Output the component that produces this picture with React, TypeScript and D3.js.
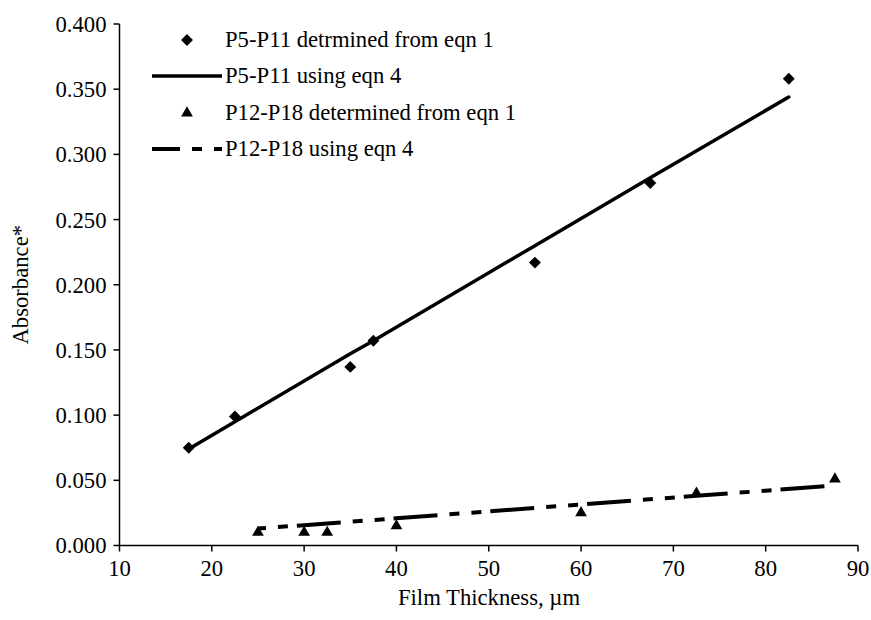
import React from "react";
import * as d3 from "d3";

const p5x = [17.5, 22.5, 35, 37.5, 55, 67.5, 82.5];
const p5y = [0.075, 0.099, 0.137, 0.157, 0.217, 0.278, 0.358];
const p5fit = [0.074, 0.095, 0.147, 0.157, 0.230, 0.282, 0.344];

const p12x = [25, 30, 32.5, 40, 60, 72.5, 87.5];
const p12y = [0.010, 0.010, 0.010, 0.015, 0.025, 0.040, 0.051];
const p12fit = [0.013, 0.0156, 0.0169, 0.0209, 0.0315, 0.0381, 0.046];

const xTicks = [10, 20, 30, 40, 50, 60, 70, 80, 90];
const yTicks = [0, 0.05, 0.1, 0.15, 0.2, 0.25, 0.3, 0.35, 0.4];

const legendLabels = [
  "P5-P11 detrmined from eqn 1",
  "P5-P11 using eqn 4",
  "P12-P18 determined from eqn 1",
  "P12-P18 using eqn 4",
];

const W = 871;
const H = 620;
const FONT = "'Liberation Serif', 'Times New Roman', serif";
const FS = 22.7;

export default function App() {
  const x = d3.scaleLinear().domain([10, 90]).range([119.5, 858]);
  const y = d3.scaleLinear().domain([0, 0.4]).range([545.5, 24]);

  const line = d3
    .line<[number, number]>()
    .x((d) => x(d[0]))
    .y((d) => y(d[1]));

  const p5Line = line(p5x.map((v, i) => [v, p5fit[i]] as [number, number]))!;
  const p12Line = line(p12x.map((v, i) => [v, p12fit[i]] as [number, number]))!;

  const diamond = d3.symbol().type(d3.symbolDiamond2).size(90)()!;
  const triangle = d3.symbol().type(d3.symbolTriangle).size(60)()!;

  const legendY = [40, 76, 113, 149];

  return (
    <svg
      width={W}
      height={H}
      style={{ position: "absolute", left: 0, top: 0, background: "#fff" }}
      fontFamily={FONT}
    >
      <rect x={0} y={0} width={W} height={H} fill="#fff" />
      {/* axes */}
      <line x1={x(10)} x2={x(90)} y1={y(0)} y2={y(0)} stroke="#000" strokeWidth={1.5} />
      <line x1={x(10)} x2={x(10)} y1={y(0)} y2={y(0.4)} stroke="#000" strokeWidth={1.5} />
      {xTicks.map((t) => (
        <g key={"xt" + t}>
          <line x1={x(t)} x2={x(t)} y1={y(0)} y2={y(0) + 6} stroke="#000" strokeWidth={1.5} />
          <text x={x(t)} y={y(0) + 30} textAnchor="middle" fontSize={FS}>
            {t}
          </text>
        </g>
      ))}
      {yTicks.map((t) => (
        <g key={"yt" + t}>
          <line x1={x(10) - 6} x2={x(10)} y1={y(t)} y2={y(t)} stroke="#000" strokeWidth={1.5} />
          <text x={x(10) - 13} y={y(t)} dy="0.35em" textAnchor="end" fontSize={FS}>
            {d3.format(".3f")(t)}
          </text>
        </g>
      ))}
      <text x={489} y={605} textAnchor="middle" fontSize={FS}>
        Film Thickness, µm
      </text>
      <text
        transform={`translate(28, ${y(0.2)}) rotate(-90)`}
        textAnchor="middle"
        fontSize={FS}
      >
        Absorbance*
      </text>

      {/* series */}
      <path d={p5Line} fill="none" stroke="#000" strokeWidth={3.5} strokeLinecap="round" />
      <path
        d={p12Line}
        fill="none"
        stroke="#000"
        strokeWidth={4}
        strokeDasharray="44 12 10 12 10 9"
        strokeDashoffset={58}
      />
      {p5x.map((v, i) => (
        <path key={"d" + i} d={diamond} transform={`translate(${x(v)},${y(p5y[i])})`} fill="#000" />
      ))}
      {p12x.map((v, i) => (
        <path key={"t" + i} d={triangle} transform={`translate(${x(v)},${y(p12y[i])})`} fill="#000" />
      ))}

      {/* legend */}
      <path d={diamond} transform={`translate(187,${legendY[0]})`} fill="#000" />
      <line x1={152} x2={222} y1={legendY[1]} y2={legendY[1]} stroke="#000" strokeWidth={3.5} />
      <path d={triangle} transform={`translate(187,${legendY[2]})`} fill="#000" />
      <line
        x1={152}
        x2={222}
        y1={legendY[3]}
        y2={legendY[3]}
        stroke="#000"
        strokeWidth={4}
        strokeDasharray="28 12 10 12 10"
      />
      {legendLabels.map((l, i) => (
        <text key={l} x={225} y={legendY[i]} dy="0.33em" fontSize={FS}>
          {l}
        </text>
      ))}
    </svg>
  );
}
